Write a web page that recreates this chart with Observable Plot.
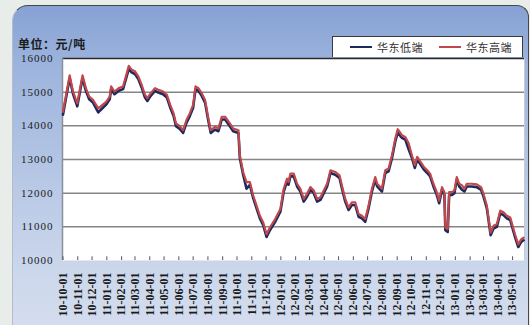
<!DOCTYPE html>
<html>
<head>
<meta charset="utf-8">
<script src="https://cdn.jsdelivr.net/npm/d3@7"></script>
<script src="https://cdn.jsdelivr.net/npm/@observablehq/plot@0.6"></script>
<style>
  html, body { margin: 0; padding: 0; background: #e9ede9; }
  #chart { position: relative; width: 530px; height: 325px; overflow: hidden; background: #e9ede9; }
  #panel {
    position: absolute; left: 12px; top: 5px; width: 515px; height: 340px;
    border-top: 1.5px solid #474747; border-right: 1.5px solid #474747; border-left: 1px solid #b4bccb;
    border-radius: 16px 12px 0 0;
    background: linear-gradient(to bottom, #86a1d3 0%, #9db4dd 18%, #b6c7e5 50%, #cdd8ec 80%, #d6dfef 100%);
  }
  #chart svg { position: absolute; left: 0; top: 0; }
  #unit {
    position: absolute; left: 18px; top: 35px; height: 12px; line-height: 12px; white-space: nowrap;
    font: 12px "Noto Sans CJK SC", sans-serif; color: #1b1b1b; font-weight: 600; letter-spacing: 0.5px;
  }
  #legend {
    position: absolute; left: 332px; top: 36px; width: 191px; height: 21px;
    background: #fff; border: 1px solid #3a3a3a; border-bottom: none; box-sizing: border-box;
    display: flex; align-items: center; justify-content: flex-end; padding-right: 10px;
    font: 11px "Noto Sans CJK SC", sans-serif; color: #333; letter-spacing: 0.5px; white-space: nowrap;
  }
  #legend .item { display: flex; align-items: center; margin-left: 16px; white-space: nowrap; }
  #legend .swatch { display: inline-block; width: 22px; height: 0; border-top: 2px solid; margin-right: 5px; }
  g[aria-label^="x-axis"] text { font-weight: bold; }
  g[aria-label^="y-axis"] text { font-size: 11px; letter-spacing: 1px; }
</style>
</head>
<body>
<div id="chart">
  <div id="panel"></div>
  <div id="unit">单位：元/吨</div>
  <div id="legend"></div>
</div>
<script>
// Weekly East China prices, yuan per tonne
const seriesNames = ["华东低端", "华东高端"];
const seriesColors = ["#1e2a5e", "#c0474b"];

const dates = [
  "2010-10-01","2010-10-15","2010-10-22","2010-10-31","2010-11-11","2010-11-18","2010-11-25","2010-12-03","2010-12-14","2010-12-21",
  "2010-12-31","2011-01-07","2011-01-10","2011-01-17","2011-01-26","2011-02-04","2011-02-11","2011-02-16","2011-02-22","2011-03-01",
  "2011-03-08","2011-03-15","2011-03-22","2011-03-27","2011-04-03","2011-04-12","2011-04-19","2011-04-29","2011-05-07","2011-05-14",
  "2011-05-21","2011-05-26","2011-06-03","2011-06-10","2011-06-17","2011-06-24","2011-07-01","2011-07-06","2011-07-12","2011-07-19",
  "2011-07-26","2011-08-02","2011-08-07","2011-08-16","2011-08-23","2011-08-30","2011-09-06","2011-09-16","2011-09-23","2011-10-04",
  "2011-10-07","2011-10-14","2011-10-21","2011-10-28","2011-11-04","2011-11-11","2011-11-18","2011-11-25","2011-12-02","2011-12-09",
  "2011-12-20","2011-12-31","2012-01-07","2012-01-14","2012-01-17","2012-01-21","2012-01-28","2012-02-04","2012-02-11","2012-02-18",
  "2012-02-25","2012-03-03","2012-03-10","2012-03-17","2012-03-24","2012-03-31","2012-04-07","2012-04-14","2012-04-24","2012-05-03",
  "2012-05-08","2012-05-15","2012-05-22","2012-05-29","2012-06-05","2012-06-12","2012-06-19","2012-06-26","2012-07-03","2012-07-10",
  "2012-07-17","2012-07-21","2012-07-31","2012-08-07","2012-08-14","2012-08-21","2012-08-28","2012-09-02","2012-09-11","2012-09-18",
  "2012-09-25","2012-10-02","2012-10-08","2012-10-13","2012-10-20","2012-10-27","2012-11-03","2012-11-09","2012-11-16","2012-11-23",
  "2012-11-28","2012-12-04","2012-12-09","2012-12-11","2012-12-16","2012-12-19","2012-12-25","2012-12-30","2013-01-04","2013-01-09",
  "2013-01-15","2013-01-20","2013-01-25","2013-02-04","2013-02-15","2013-02-24","2013-03-01","2013-03-08","2013-03-11","2013-03-16",
  "2013-03-22","2013-03-29","2013-04-05","2013-04-12","2013-04-19","2013-04-26","2013-05-01","2013-05-06","2013-05-13","2013-05-19",
  "2013-05-24"
];

const lowEnd = [
  14330,15420,14950,14580,15420,15040,14790,14690,14400,14500,
  14640,14790,15090,14940,15040,15090,15440,15690,15590,15540,
  15390,15140,14840,14740,14890,15040,14990,14940,14840,14540,
  14290,13990,13910,13790,14090,14290,14540,15090,15040,14890,
  14690,14140,13790,13890,13840,14190,14190,13990,13840,13790,
  13040,12540,12130,12250,11850,11550,11250,11050,10700,10900,
  11150,11450,12050,12350,12250,12500,12500,12200,12050,11750,
  11900,12100,12000,11750,11800,12000,12200,12600,12550,12450,
  12150,11750,11500,11650,11650,11300,11250,11150,11550,12050,
  12400,12200,12050,12600,12650,13040,13540,13800,13640,13590,
  13300,13040,12750,13000,12850,12700,12600,12500,12200,11950,
  11700,12100,11950,10900,10850,11950,11950,12000,12400,12200,
  12100,12050,12200,12200,12180,12100,11900,11550,11250,10750,
  10950,11000,11400,11350,11250,11200,10950,10700,10400,10550,
  10600
];

const highEnd = [
  14420,15500,15020,14670,15500,15120,14870,14770,14520,14600,
  14720,14870,15170,15020,15120,15170,15520,15780,15670,15620,
  15470,15220,14920,14820,14970,15120,15070,15020,14920,14620,
  14370,14070,13990,13870,14170,14370,14620,15170,15120,14970,
  14770,14220,13870,13970,13920,14270,14270,14070,13920,13870,
  13120,12620,12330,12330,11930,11630,11330,11130,10780,10980,
  11230,11530,12130,12430,12330,12580,12580,12280,12130,11830,
  11980,12180,12080,11830,11880,12080,12280,12680,12630,12530,
  12230,11830,11580,11730,11730,11380,11330,11230,11630,12130,
  12480,12280,12130,12680,12730,13120,13620,13900,13720,13670,
  13480,13120,12830,13080,12930,12780,12680,12580,12280,12030,
  11780,12180,12030,10980,10930,12030,12030,12080,12480,12280,
  12230,12130,12280,12280,12260,12180,11980,11630,11330,10830,
  11030,11080,11480,11430,11330,11280,11030,10780,10480,10630,
  10680
];

const monthLabels = [
  "10-10-01","10-11-01","10-12-01","11-01-01","11-02-01","11-03-01","11-04-01","11-05-01",
  "11-06-01","11-07-01","11-08-01","11-09-01","11-10-01","11-11-01","11-12-01","12-01-01",
  "12-02-01","12-03-01","12-04-01","12-05-01","12-06-01","12-07-01","12-08-01","12-09-01",
  "12-10-01","12-11-01","12-12-01","13-01-01","13-02-01","13-03-01","13-04-01","13-05-01"
];

const yTicks = [10000, 11000, 12000, 13000, 14000, 15000, 16000];
const gridValues = [11000, 12000, 13000, 14000, 15000];

const parseDate = d3.utcParse("%Y-%m-%d");
const parseTick = d3.utcParse("%y-%m-%d");
const monthTicks = monthLabels.map(parseTick);
const xDomain = [parseDate("2010-09-30"), parseDate("2013-05-26")];

const rows = dates.map((d, i) => ({date: parseDate(d), low: lowEnd[i], high: highEnd[i]}));

const chart = Plot.plot({
  width: 530,
  height: 325,
  marginLeft: 62,
  marginRight: 6,
  marginTop: 58,
  marginBottom: 65,
  style: {background: "transparent", fontFamily: "Liberation Serif", fontSize: "12px", color: "#1a1a1a"},
  x: {
    type: "utc", domain: xDomain, ticks: monthTicks,
    tickFormat: d3.utcFormat("%y-%m-%d"), tickRotate: -90,
    tickSize: 0, tickPadding: 12, label: null
  },
  y: {
    domain: [10000, 16000], ticks: yTicks, tickFormat: d => String(d),
    tickSize: 0, tickPadding: 9, label: null
  },
  marks: [
    Plot.frame({fill: "white", stroke: null}),
    Plot.ruleY(gridValues, {stroke: "#858585", strokeWidth: 1.5}),
    Plot.ruleY([16000], {stroke: "#2a2a2a", strokeWidth: 1.5}),
    Plot.ruleX([xDomain[0]], {stroke: "#8a8f99", strokeWidth: 1.5}),
    Plot.ruleX([xDomain[1]], {stroke: "#c6cad2", strokeWidth: 1}),
    Plot.ruleX(monthTicks, {y1: 10000, y2: 10110, stroke: "#555", strokeWidth: 1}),
    Plot.line(rows, {x: "date", y: "low", stroke: seriesColors[0], strokeWidth: 2.6}),
    Plot.line(rows, {x: "date", y: "high", stroke: seriesColors[1], strokeWidth: 2.2})
  ]
});

document.getElementById("chart").insertBefore(chart, document.getElementById("unit"));

// legend built from the series names and colours
const legend = d3.select("#legend");
seriesNames.forEach((name, i) => {
  const item = legend.append("span").attr("class", "item");
  item.append("span").attr("class", "swatch").style("border-top-color", seriesColors[i]);
  item.append("span").text(name);
});
</script>
</body>
</html>
